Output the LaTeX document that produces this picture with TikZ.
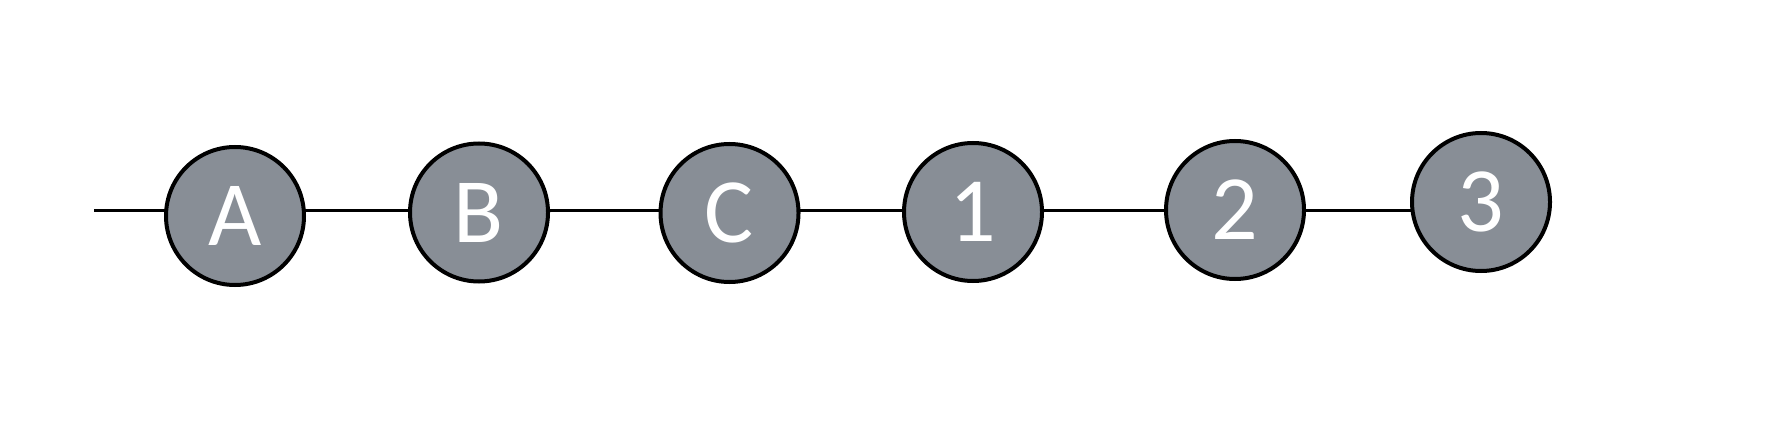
\documentclass[tikz,border=0pt]{standalone}
\usepackage{fontspec}
\setsansfont{Carlito}
\usepackage{xcolor}
\usepackage{tikz}
\usetikzlibrary{backgrounds}
\definecolor{commitGray}{RGB}{136,142,150}

\begin{document}
\begin{tikzpicture}[x=0.5pt, y=-0.5pt,
    commit/.style={circle, draw=black, line width=2pt, fill=commitGray,
        minimum size=69pt, inner sep=0pt, text=white,
        font=\sffamily\fontsize{46}{46}\selectfont},
    branch/.style={draw=black, line width=1.7pt}]
    \useasboundingbox (0,0) rectangle (1770,422);
    \coordinate (start) at (94,210.5);
    \node[commit] (cA) at (235,216) {A};
    \node[commit] (cB) at (479,212.5) {B};
    \node[commit] (cC) at (729.5,213) {C};
    \node[commit] (c1) at (973,212) {1};
    \node[commit] (c2) at (1235,210) {2};
    \node[commit] (c3) at (1481,202) {3};
    \begin{scope}[on background layer]
        \draw[branch] (start) -- (cA.center |- start);
        \foreach \a/\b in {cA/cB, cB/cC, cC/c1, c1/c2, c2/c3}
            \draw[branch] (\a.center |- start) -- (\b.center |- start);
    \end{scope}
\end{tikzpicture}
\end{document}
